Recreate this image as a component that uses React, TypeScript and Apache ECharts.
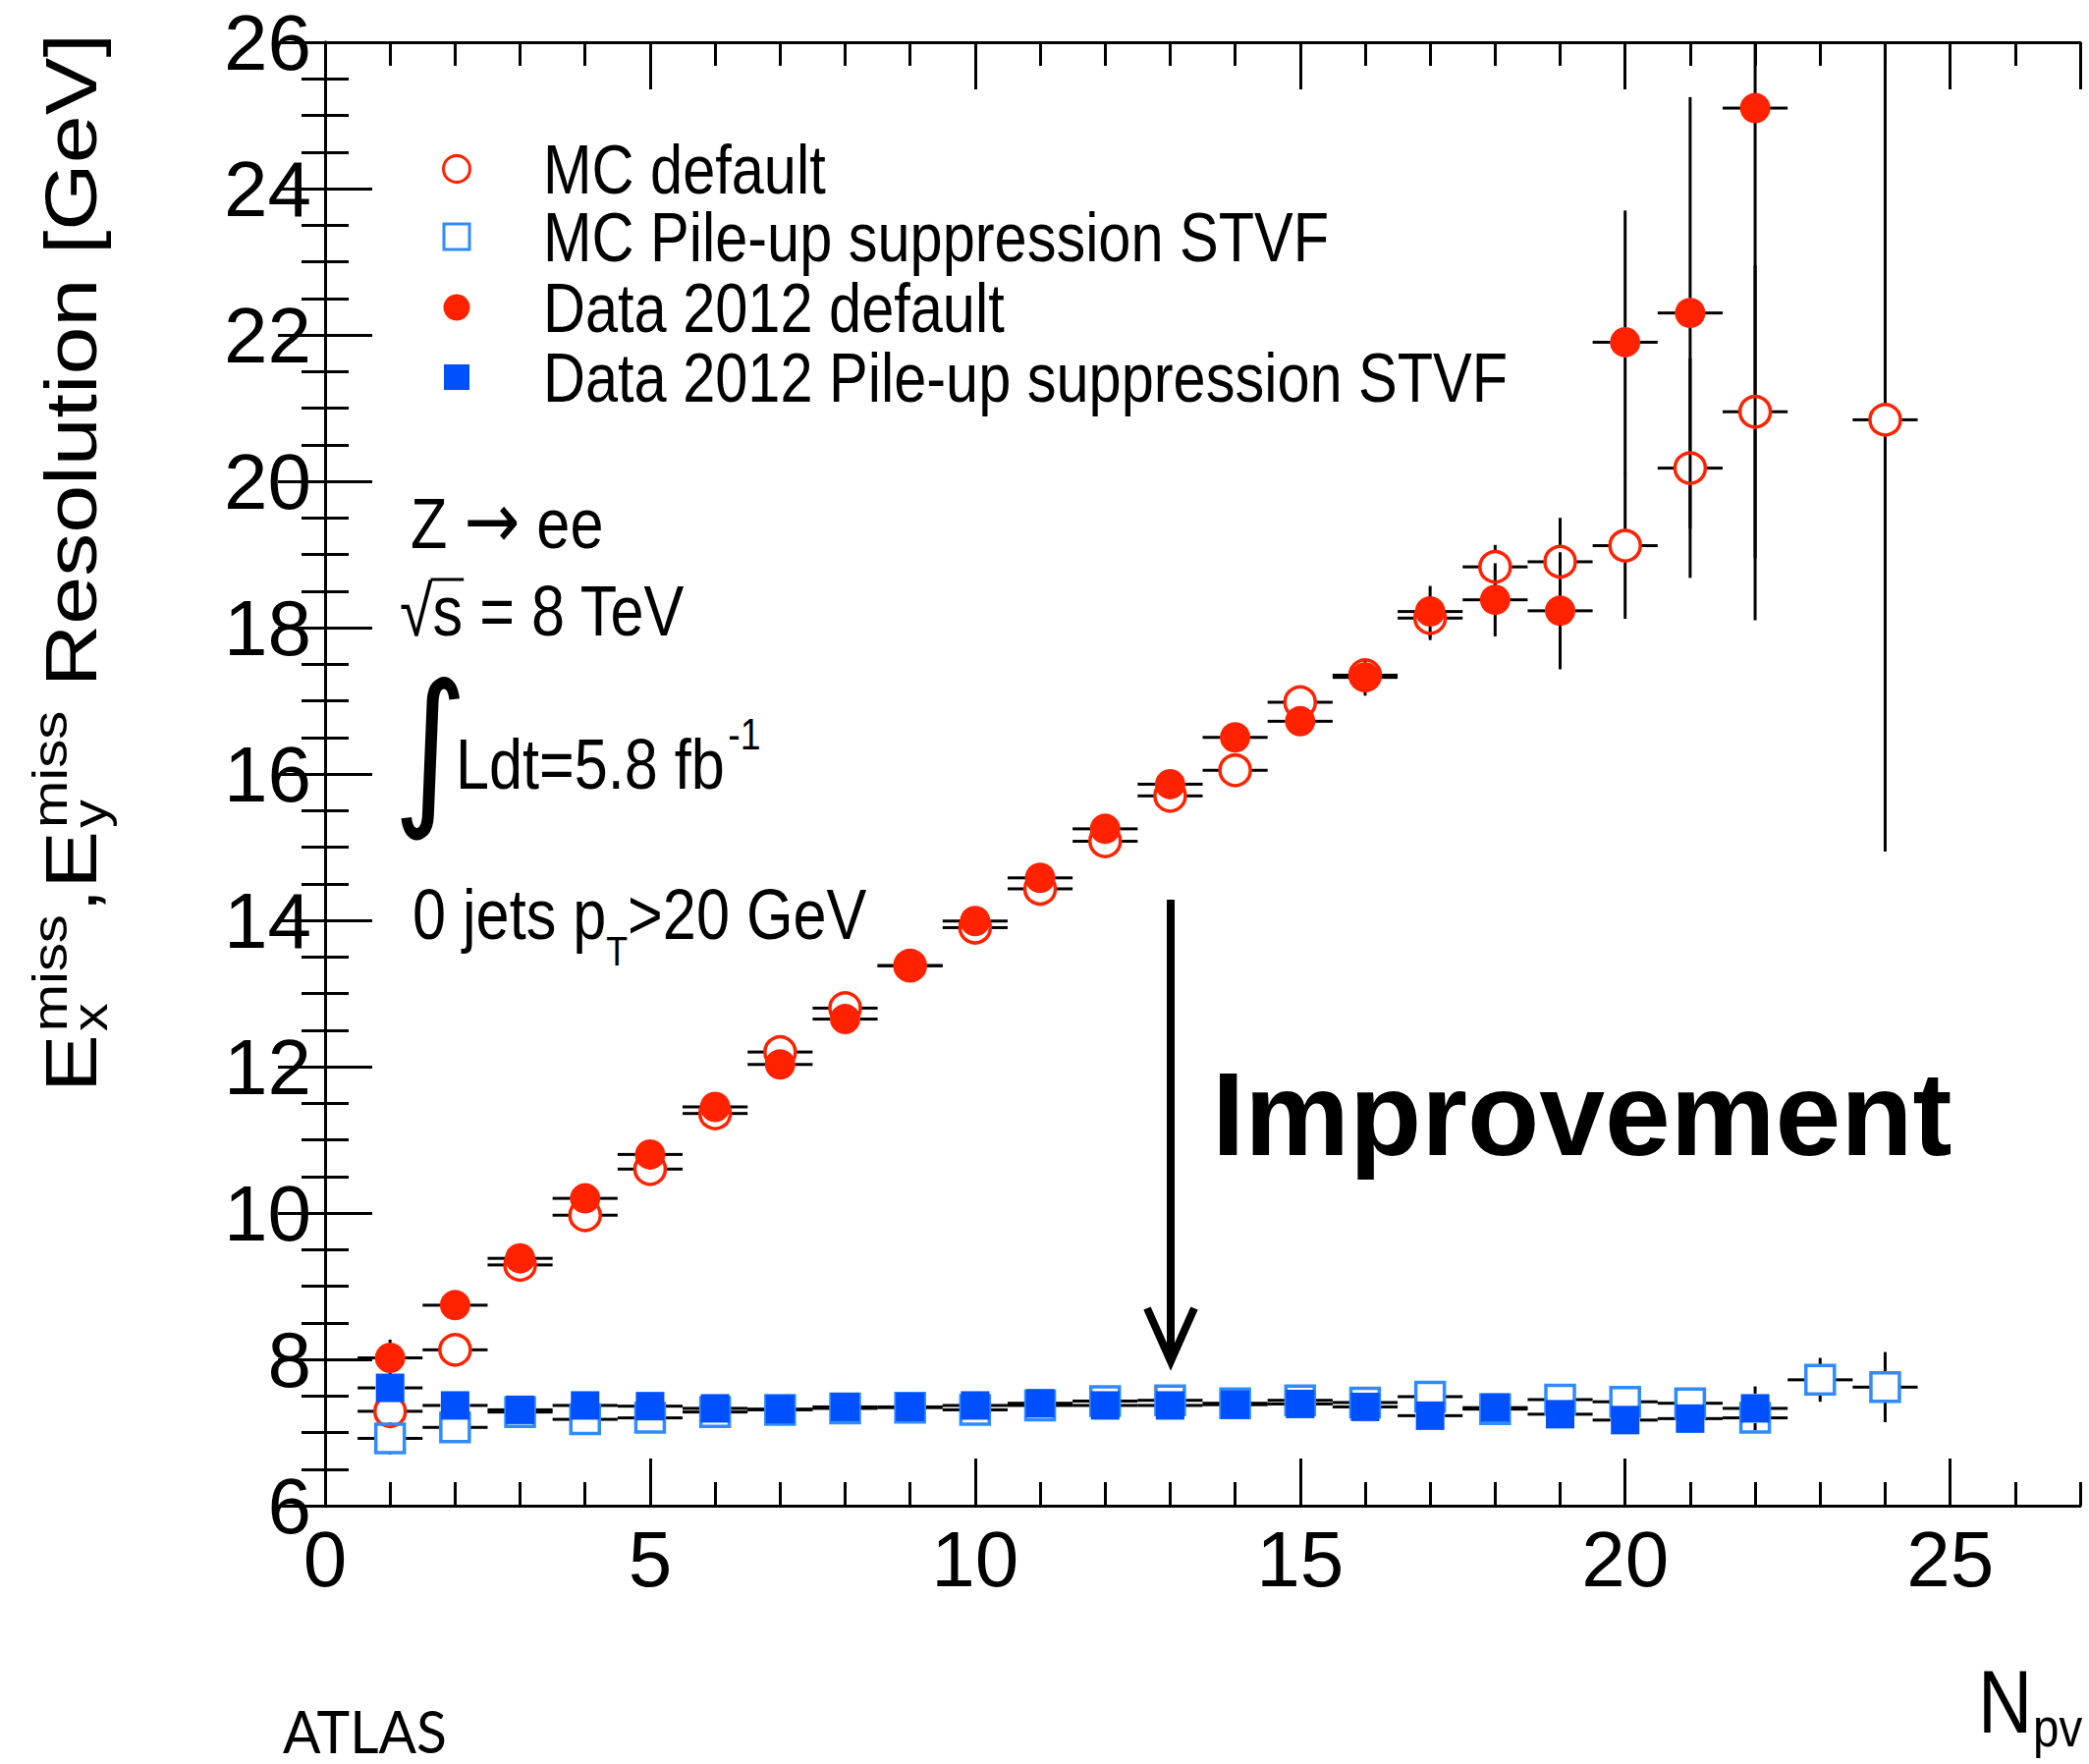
import React, { useEffect, useRef } from "react";
import * as echarts from "echarts";

const W = 2127;
const H = 1796;

// ---- data ----
const npv = [1, 2, 3, 4, 5, 6, 7, 8, 9, 10, 11, 12, 13, 14, 15, 16, 17, 18, 19, 20, 21, 22, 23, 24];

const mcDefault = [7.29, 8.13, 9.29, 9.97, 10.6, 11.36, 12.2, 12.8, 13.38, 13.9, 14.43, 15.08, 15.7, 16.05, 16.98, 17.35, 18.13, 18.83, 18.9, 19.12, 20.18, 20.95, null, 20.84];
const mcDefaultErr = [0.2, 0.08, 0.05, 0.05, 0.05, 0.05, 0.05, 0.05, 0.05, 0.05, 0.06, 0.06, 0.07, 0.08, 0.1, 0.2, 0.3, 0.3, 0.6, 1.0, 1.5, 2.0, null, 5.9];

const mcStvf = [6.92, 7.07, 7.28, 7.18, 7.2, 7.28, 7.31, 7.33, 7.34, 7.31, 7.37, 7.43, 7.44, 7.4, 7.44, 7.41, 7.49, 7.32, 7.45, 7.42, 7.4, 7.2, 7.72, 7.62];
const mcStvfErr = [0.22, 0.08, 0.04, 0.04, 0.04, 0.04, 0.04, 0.04, 0.04, 0.04, 0.04, 0.04, 0.04, 0.04, 0.05, 0.05, 0.1, 0.06, 0.1, 0.1, 0.1, 0.12, 0.3, 0.48];

const dataDefault = [8.02, 8.74, 9.38, 10.2, 10.8, 11.45, 12.03, 12.65, 13.38, 13.99, 14.58, 15.25, 15.86, 16.5, 16.72, 17.32, 18.22, 18.38, 18.23, 21.9, 22.3, 25.1, null, null];
const dataDefaultErr = [0.25, 0.06, 0.05, 0.05, 0.05, 0.05, 0.05, 0.05, 0.05, 0.05, 0.06, 0.06, 0.07, 0.1, 0.1, 0.25, 0.35, 0.5, 0.8, 1.8, 2.95, 7.0, null, null];

const dataStvf = [7.61, 7.37, 7.31, 7.37, 7.36, 7.33, 7.32, 7.35, 7.35, 7.37, 7.4, 7.37, 7.37, 7.38, 7.39, 7.35, 7.23, 7.34, 7.25, 7.17, 7.19, 7.33, null, null];
const dataStvfErr = [0.15, 0.05, 0.04, 0.04, 0.04, 0.04, 0.04, 0.04, 0.04, 0.04, 0.04, 0.04, 0.04, 0.04, 0.05, 0.05, 0.08, 0.06, 0.08, 0.08, 0.08, 0.3, null, null];

const seriesNames = [
  "MC default",
  "MC Pile-up suppression STVF",
  "Data 2012 default",
  "Data 2012 Pile-up suppression STVF",
];

const X_MIN = 0;
const X_MAX = 27;
const Y_MIN = 6;
const Y_MAX = 26;
const X_BIN_HALF = 0.5;

// ---- styles ----
const RED = "#ff2200";
const BLUE = "#0050ff";
const BLUE_OPEN = "#2f8bff";
const ROOT_FONT = '"Liberation Sans", Arial, sans-serif';
const DEJAVU = '"DejaVu Sans", sans-serif';
const SX = 0.85;

const GRID = { left: 331, top: 43, width: 1787, height: 1490 };

let measureCtx: CanvasRenderingContext2D | null = null;
function textWidth(t: string, size: number, family: string, bold?: boolean) {
  if (!measureCtx) measureCtx = document.createElement("canvas").getContext("2d");
  if (!measureCtx) return t.length * size * 0.55;
  measureCtx.font = `${bold ? "bold " : ""}${size}px ${family}`;
  return measureCtx.measureText(t).width;
}

function textEl(t: string, x: number, baseline: number, size: number, family: string, bold: boolean, sx: number) {
  return {
    type: "text",
    x,
    y: baseline - 0.3465 * size,
    scaleX: sx,
    silent: true,
    style: {
      text: t,
      fontSize: size,
      fontFamily: family,
      fontWeight: bold ? "bold" : "normal",
      fill: "#000",
      textAlign: "left",
      textVerticalAlign: "middle",
    },
  };
}

interface Frag {
  t: string;
  size: number;
  dy?: number;
  dx?: number;
  family?: string;
  bold?: boolean;
  under?: Frag; // stacked fragment at same x (sub under sup)
}

function row(x0: number, base: number, frags: Frag[], sx: number) {
  let cx = x0;
  const out: any[] = [];
  const xs: number[] = [];
  for (const f of frags) {
    cx += (f.dx ?? 0) * sx;
    xs.push(cx);
    const fam = f.family ?? ROOT_FONT;
    out.push(textEl(f.t, cx, base + (f.dy ?? 0), f.size, fam, !!f.bold, sx));
    let w = textWidth(f.t, f.size, fam, f.bold);
    if (f.under) {
      const u = f.under;
      const uf = u.family ?? ROOT_FONT;
      out.push(textEl(u.t, cx, base + (u.dy ?? 0), u.size, uf, !!u.bold, sx));
      w = Math.max(w, textWidth(u.t, u.size, uf, u.bold));
    }
    cx += w * sx;
  }
  xs.push(cx);
  return { els: out, xs };
}

function pairs(vals: (number | null)[], errs: (number | null)[]) {
  const out: number[][] = [];
  npv.forEach((x, i) => {
    const v = vals[i];
    if (v != null) out.push([x, v, errs[i] ?? 0]);
  });
  return out;
}

function errSeries(name: string, data: number[][], radius: number) {
  return {
    type: "custom",
    name,
    data,
    xAxisIndex: 0,
    yAxisIndex: 0,
    silent: true,
    encode: { x: 0, y: 1 },
    renderItem: (_params: any, api: any) => {
      const x = api.value(0);
      const y = api.value(1);
      const e = api.value(2);
      const c = api.coord([x, y]);
      const l = api.coord([x - X_BIN_HALF, y]);
      const r = api.coord([x + X_BIN_HALF, y]);
      const t = api.coord([x, Math.min(y + e, Y_MAX)]);
      const b = api.coord([x, Math.max(y - e, Y_MIN)]);
      const st = { stroke: "#000", lineWidth: 3 };
      const ch: any[] = [
        { type: "line", shape: { x1: l[0], y1: c[1], x2: c[0] - radius, y2: c[1] }, style: st },
        { type: "line", shape: { x1: c[0] + radius, y1: c[1], x2: r[0], y2: c[1] }, style: st },
      ];
      if (c[1] - t[1] > radius) ch.push({ type: "line", shape: { x1: c[0], y1: t[1], x2: c[0], y2: c[1] - radius }, style: st });
      if (b[1] - c[1] > radius) ch.push({ type: "line", shape: { x1: c[0], y1: c[1] + radius, x2: c[0], y2: b[1] }, style: st });
      return { type: "group", children: ch };
    },
  };
}

const markerStyles = [
  { symbol: "circle", size: 31, style: { color: "rgba(255,255,255,0)", borderColor: RED, borderWidth: 3.5, opacity: 1 } },
  { symbol: "rect", size: 29, style: { color: "rgba(255,255,255,0)", borderColor: BLUE_OPEN, borderWidth: 3.5, opacity: 1 } },
  { symbol: "circle", size: 31, style: { color: RED, opacity: 1 } },
  { symbol: "rect", size: 29, style: { color: BLUE, opacity: 1 } },
];

function scatter(idx: number, data: number[][]) {
  const m = markerStyles[idx];
  return {
    type: "scatter",
    name: seriesNames[idx],
    data: data.map((d) => [d[0], d[1]]),
    symbol: m.symbol,
    symbolSize: m.size,
    itemStyle: m.style,
    silent: true,
    emphasis: { disabled: true },
    xAxisIndex: 0,
    yAxisIndex: 0,
  };
}

function buildLegend() {
  const els: any[] = [];
  const rowsY = [172, 241, 313, 384];
  const mx = 465;
  const tx = 553;
  const F = 70;
  rowsY.forEach((ry, i) => {
    const m = markerStyles[i];
    const filled = i >= 2;
    const col = i === 0 || i === 2 ? RED : i === 1 ? BLUE_OPEN : BLUE;
    const style = filled
      ? { fill: col, stroke: "none" }
      : { fill: "none", stroke: col, lineWidth: 3 };
    if (m.symbol === "circle") {
      els.push({ type: "circle", silent: true, shape: { cx: mx, cy: ry, r: 13.5 }, style });
    } else {
      els.push({ type: "rect", silent: true, shape: { x: mx - 13, y: ry - 13, width: 26, height: 26 }, style });
    }
    els.push(textEl(seriesNames[i], tx, ry + 0.358 * F, F, ROOT_FONT, false, SX));
  });
  return els;
}

function buildGraphics() {
  const els: any[] = [];
  const F = 72;

  els.push(...buildLegend());

  // Z -> ee
  els.push(
    ...row(418, 558, [
      { t: "Z", size: F },
      { t: "\u2192", size: 80, dx: 20, family: DEJAVU },
      { t: "ee", size: F, dx: 20 },
    ], SX).els
  );

  // sqrt(s) = 8 TeV
  const s = row(407, 647, [{ t: "\u221A", size: F }, { t: "s", size: F }, { t: " = 8 TeV", size: F }], SX);
  els.push(...s.els);
  els.push({
    type: "line",
    silent: true,
    shape: { x1: s.xs[1] - 2, y1: 647 - 0.79 * F, x2: s.xs[2] + 1, y2: 647 - 0.79 * F },
    style: { stroke: "#000", lineWidth: 3 },
  });

  // integral
  els.push({
    type: "text",
    x: 438,
    y: 760,
    scaleX: 0.85,
    silent: true,
    style: {
      text: "\u222B",
      fontSize: 172,
      fontFamily: DEJAVU,
      fill: "#000",
      textAlign: "center",
      textVerticalAlign: "middle",
    },
  });
  els.push(...row(464, 803, [{ t: "Ldt=5.8 fb", size: F }, { t: "-1", size: 44, dx: 4, dy: -40 }], SX).els);

  // 0 jets pT>20 GeV
  els.push(
    ...row(420, 956, [
      { t: "0 jets p", size: F },
      { t: "T", size: 42, dy: 27 },
      { t: ">20 GeV", size: F },
    ], SX).els
  );

  // Improvement
  els.push(textEl("Improvement", 1234, 1176, 120, ROOT_FONT, true, 1));

  // arrow
  els.push({
    type: "line",
    silent: true,
    shape: { x1: 1192, y1: 916, x2: 1192, y2: 1380 },
    style: { stroke: "#000", lineWidth: 8 },
  });
  els.push({
    type: "polyline",
    silent: true,
    shape: { points: [[1168, 1332], [1192, 1386], [1216, 1332]] },
    style: { stroke: "#000", lineWidth: 8, fill: "none", lineJoin: "miter" },
  });

  // ATLAS
  els.push(textEl("ATLAS", 288, 1782, 60, '"Lato", "Open Sans", sans-serif', false, 0.95));

  // N_pv
  els.push(...row(2014, 1764, [{ t: "N", size: 90 }, { t: "pv", size: 56, dx: 1, dy: 14 }], SX).els);

  // y-axis title (rotated)
  const TF = 88;
  const SF = 58;
  const title = row(0, 0, [
    { t: "E", size: TF },
    { t: "miss", size: SF, dx: 3, dy: -36, under: { t: "x", size: SF, dy: 12 } },
    { t: ",", size: TF, dx: 2 },
    { t: "E", size: TF },
    { t: "miss", size: SF, dx: 3, dy: -36, under: { t: "y", size: SF, dy: 12 } },
    { t: " Resolution [GeV]", size: TF },
  ], 1);
  els.push({
    type: "group",
    x: 98,
    y: 1112,
    rotation: Math.PI / 2,
    scaleY: SX,
    silent: true,
    children: title.els,
  });

  return els;
}

function buildOption() {
  const dMc = pairs(mcDefault, mcDefaultErr);
  const dMcS = pairs(mcStvf, mcStvfErr);
  const dDa = pairs(dataDefault, dataDefaultErr);
  const dDaS = pairs(dataStvf, dataStvfErr);

  const tickLine = { color: "#000", width: 3 };
  const labelStyle = { fontSize: 80, color: "#000", fontFamily: ROOT_FONT };

  const xBase = {
    type: "value",
    min: X_MIN,
    max: X_MAX,
    splitLine: { show: false },
    axisPointer: { show: false },
  };
  const yBase = {
    type: "value",
    min: Y_MIN,
    max: Y_MAX,
    interval: 2,
    splitLine: { show: false },
    minorSplitLine: { show: false },
    axisLine: { show: true, lineStyle: tickLine },
    axisTick: { show: true, inside: true, length: 48, lineStyle: tickLine },
    minorTick: { show: true, splitNumber: 4, length: 24, lineStyle: tickLine },
  };

  return {
    animation: false,
    backgroundColor: "#fff",
    grid: { ...GRID, containLabel: false, outerBoundsMode: "none" },
    tooltip: { show: false },
    legend: { show: false, data: seriesNames },
    xAxis: [
      {
        ...xBase,
        position: "bottom",
        interval: 5,
        axisLine: { show: true, onZero: false, lineStyle: tickLine },
        axisTick: { show: true, inside: true, length: 48, lineStyle: tickLine },
        axisLabel: { ...labelStyle, margin: 14, showMaxLabel: false },
      },
      {
        ...xBase,
        position: "bottom",
        interval: 1,
        axisLine: { show: false },
        axisTick: { show: true, inside: true, length: 24, lineStyle: tickLine },
        axisLabel: { show: false },
      },
      {
        ...xBase,
        position: "top",
        interval: 5,
        axisLine: { show: true, onZero: false, lineStyle: tickLine },
        axisTick: { show: true, inside: true, length: 48, lineStyle: tickLine },
        axisLabel: { show: false },
      },
      {
        ...xBase,
        position: "top",
        interval: 1,
        axisLine: { show: false },
        axisTick: { show: true, inside: true, length: 24, lineStyle: tickLine },
        axisLabel: { show: false },
      },
    ],
    yAxis: [
      {
        ...yBase,
        position: "left",
        axisLabel: { ...labelStyle, margin: 14 },
      },
      {
        ...yBase,
        position: "right",
        axisLabel: { show: false },
      },
    ],
    series: [
      errSeries("err-mc-default", dMc, 15),
      scatter(0, dMc),
      errSeries("err-mc-stvf", dMcS, 15),
      scatter(1, dMcS),
      errSeries("err-data-default", dDa, 15),
      scatter(2, dDa),
      errSeries("err-data-stvf", dDaS, 15),
      scatter(3, dDaS),
    ],
    graphic: buildGraphics(),
  };
}

export default function App() {
  const ref = useRef<HTMLDivElement>(null);
  useEffect(() => {
    const el = ref.current;
    if (!el) return;
    const chart = echarts.init(el, null, { renderer: "svg" });
    chart.setOption(buildOption() as any);
    return () => chart.dispose();
  }, []);
  return (
    <div
      ref={ref}
      style={{ position: "absolute", left: 0, top: 0, width: W, height: H, background: "#fff" }}
    />
  );
}
